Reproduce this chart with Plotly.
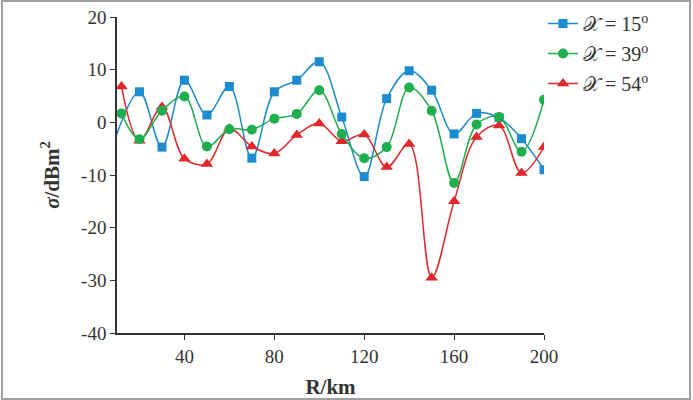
import plotly.graph_objects as go

# ---- data ----
R_blue = [8, 20, 30, 40, 50, 60, 70, 80, 90, 100, 110, 120, 130, 140, 150, 160, 170, 180, 190, 200]
sigma_15 = [-4.6, 5.8, -4.7, 8.0, 1.4, 6.8, -6.8, 5.8, 8.0, 11.5, 1.0, -10.3, 4.5, 9.8, 6.1, -2.2, 1.7, 0.9, -3.1, -9.0]

R = [12, 20, 30, 40, 50, 60, 70, 80, 90, 100, 110, 120, 130, 140, 150, 160, 170, 180, 190, 200]
sigma_39 = [1.7, -3.2, 2.2, 4.9, -4.6, -1.3, -1.4, 0.7, 1.6, 6.1, -2.2, -6.8, -4.7, 6.6, 2.2, -11.5, -0.4, 1.0, -5.6, 4.3]
sigma_54 = [6.8, -3.5, 2.9, -6.9, -7.9, -1.2, -4.6, -5.9, -2.4, -0.2, -3.6, -2.3, -8.5, -4.1, -29.5, -15.0, -2.8, -0.6, -9.6, -4.7]

names = ["𝒳 = 15<sup>o</sup>", "𝒳 = 39<sup>o</sup>", "𝒳 = 54<sup>o</sup>"]
x_ticks = [40, 80, 120, 160, 200]
y_ticks = [-40, -30, -20, -10, 0, 10, 20]
y_ticklabels = [str(v) for v in y_ticks]

BLUE, GREEN, RED = "#1C8BD0", "#1EAE4E", "#E0282B"
FONT = "Liberation Serif"

fig = go.Figure()
fig.add_trace(go.Scatter(x=R_blue, y=sigma_15, name=names[0], legendrank=1, legendgroup="a",
                         mode="lines+markers", line=dict(color=BLUE, width=1.5, shape="spline", smoothing=1),
                         marker=dict(symbol="square", size=9, color=BLUE), cliponaxis=True))
fig.add_trace(go.Scatter(x=R, y=sigma_54, name=names[2], legendrank=3, legendgroup="c",
                         mode="lines+markers", line=dict(color=RED, width=1.5, shape="spline", smoothing=1),
                         marker=dict(symbol="triangle-up", size=11, color=RED)))
fig.add_trace(go.Scatter(x=R, y=sigma_39, name=names[1], legendrank=2, legendgroup="b",
                         mode="lines+markers", line=dict(color=GREEN, width=1.5, shape="spline", smoothing=1),
                         marker=dict(symbol="circle", size=10, color=GREEN)))

W, H = 693, 400
ml, mr, mt, mb = 117, 149, 17, 67
pw, ph = W - ml - mr, H - mt - mb

fig.update_layout(
    width=W, height=H,
    margin=dict(l=ml, r=mr, t=mt, b=mb, autoexpand=False),
    paper_bgcolor="white", plot_bgcolor="white",
    font=dict(family=FONT, size=16, color="#333333"),
    legend=dict(xref="container", yref="container", x=543 / W, y=1 - 4 / H,
                xanchor="left", yanchor="top", font=dict(size=20),
                bgcolor="rgba(0,0,0,0)", tracegroupgap=1),
    xaxis=dict(range=[10, 200], tickvals=x_ticks, ticks="outside", ticklen=5, tickcolor="#333",
               showline=True, linecolor="#333", linewidth=1.5, showgrid=False, zeroline=False,
               tickfont=dict(size=19),
               title=dict(text="<b>R/km</b>", font=dict(size=21, color="#333"), standoff=14)),
    yaxis=dict(range=[-40, 20], tickvals=y_ticks, ticktext=y_ticklabels, ticks="outside", ticklen=5,
               tickcolor="#333", showline=True, linecolor="#333", linewidth=1.5, showgrid=False,
               zeroline=False, tickfont=dict(size=19),
               title=dict(text="<b><i>σ</i>/dBm<sup>2</sup></b>", font=dict(size=21, color="#333"), standoff=16)),
)

# outer frame of the figure
fig.add_shape(type="rect", xref="paper", yref="paper",
              x0=(2 - ml) / pw, x1=(690 - ml) / pw,
              y0=-(H - 1 - mt - ph) / ph, y1=1 + (mt - 1) / ph,
              line=dict(color="#A0A0A0", width=2), layer="below")

fig.write_html("out.html")
